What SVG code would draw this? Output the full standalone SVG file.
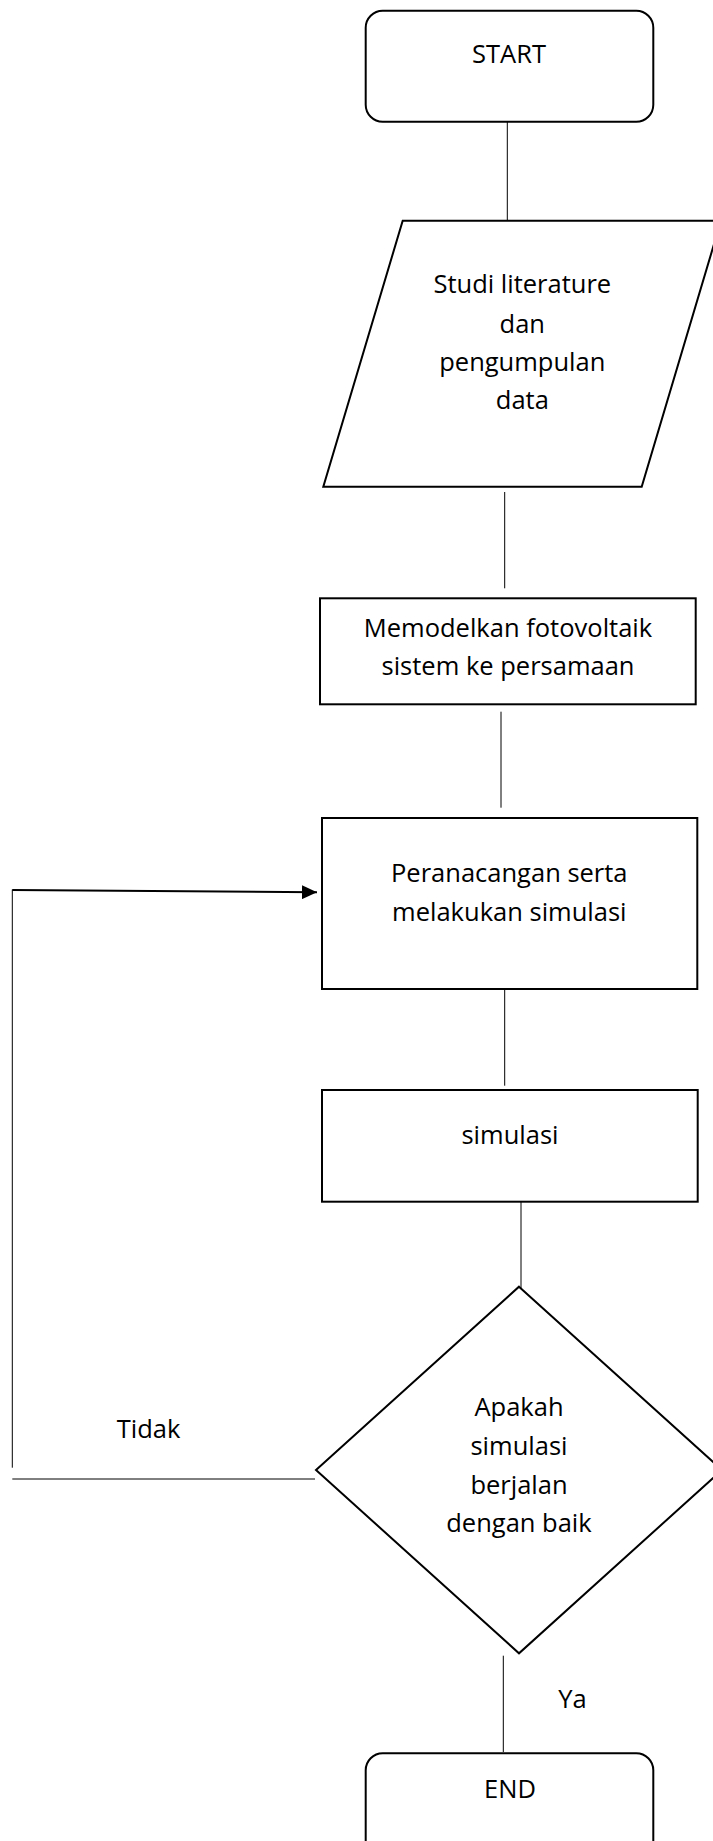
<svg xmlns="http://www.w3.org/2000/svg" width="713" height="1841" viewBox="0 0 713 1841">
<defs>
<style>
.shape{fill:#fff;stroke:#000;stroke-width:2}
.conn{stroke:#000;stroke-width:1;fill:none}
.t{font-family:"Open Sans","Noto Sans",sans-serif;font-size:25.5px;fill:#000;text-anchor:middle}
.l{font-family:"Open Sans","Noto Sans",sans-serif;font-size:25.5px;fill:#000}
</style>
<marker id="arr" markerWidth="15" markerHeight="14" refX="15" refY="7" orient="auto" markerUnits="userSpaceOnUse">
<path d="M0,0 L15,7 L0,14 z" fill="#000"/>
</marker>
</defs>
<rect width="713" height="1841" fill="#fff"/>
<g id="connectors">
<line class="conn" x1="507.3" y1="121.7" x2="507.3" y2="220.7"/>
<line class="conn" x1="504.7" y1="492" x2="504.7" y2="588.3"/>
<line class="conn" x1="501" y1="711.7" x2="501" y2="807.7"/>
<line class="conn" x1="504.7" y1="989" x2="504.7" y2="1085.7"/>
<line class="conn" x1="521" y1="1201.7" x2="521" y2="1296.7"/>
<line class="conn" x1="503.3" y1="1655.7" x2="503.3" y2="1752"/>
<line class="conn" x1="12.3" y1="1479" x2="315" y2="1479"/>
<line class="conn" x1="12.3" y1="1467.7" x2="12.3" y2="889.5"/>
<line stroke="#000" stroke-width="2" x1="12.3" y1="890" x2="317" y2="892.3" marker-end="url(#arr)"/>
<text class="l" x="116.7" y="1437.7">Tidak</text>
<text class="l" x="558.3" y="1708.3">Ya</text>
</g>
<g id="start">
<rect class="shape" x="365.7" y="10.7" width="287.6" height="111" rx="17" ry="17"/>
<text class="t" x="509" y="63">START</text>
</g>
<g id="studi">
<polygon class="shape" points="402.7,220.7 721,220.7 641.7,486.7 323.3,486.7"/>
<text class="t" x="522.3" y="293.3">Studi literature</text>
<text class="t" x="522.3" y="332.5">dan</text>
<text class="t" x="522.3" y="371">pengumpulan</text>
<text class="t" x="522.3" y="409.3">data</text>
</g>
<g id="memodelkan">
<rect class="shape" x="320" y="598.3" width="375.7" height="106"/>
<text class="t" x="508" y="636.7">Memodelkan fotovoltaik</text>
<text class="t" x="508" y="675">sistem ke persamaan</text>
</g>
<g id="peranacangan">
<rect class="shape" x="322" y="818" width="375.3" height="171"/>
<text class="t" x="509.3" y="881.7">Peranacangan serta</text>
<text class="t" x="509.3" y="920.7">melakukan simulasi</text>
</g>
<g id="simulasi">
<rect class="shape" x="322" y="1090" width="375.7" height="111.7"/>
<text class="t" x="510" y="1144">simulasi</text>
</g>
<g id="decision">
<polygon class="shape" points="519,1286.7 722,1470 519,1653.3 316,1470"/>
<text class="t" x="519" y="1415.5">Apakah</text>
<text class="t" x="519" y="1455">simulasi</text>
<text class="t" x="519" y="1494.3">berjalan</text>
<text class="t" x="519" y="1532.3">dengan baik</text>
</g>
<g id="end">
<rect class="shape" x="365.7" y="1753.3" width="287.6" height="110" rx="17" ry="17"/>
<text class="t" x="510" y="1797.7">END</text>
</g>
</svg>
